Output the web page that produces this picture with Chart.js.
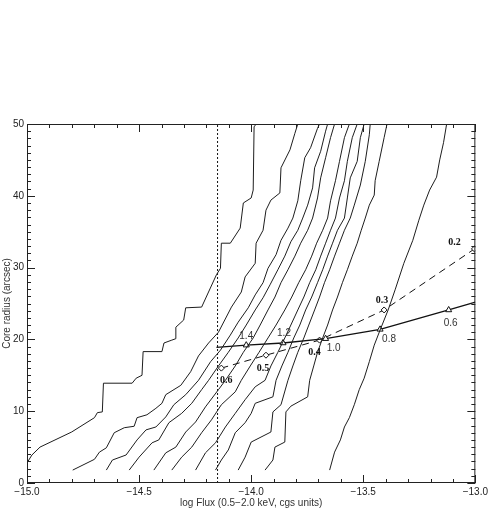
<!DOCTYPE html>
<html>
<head>
<meta charset="utf-8">
<script src="https://cdn.jsdelivr.net/npm/chart.js@4.4.0/dist/chart.umd.min.js"></script>
<style>
html, body { margin: 0; padding: 0; background: #fff; }
#wrap { width: 491px; height: 510px; }
</style>
</head>
<body>
<div id="wrap"><canvas id="myChart" width="491" height="510"></canvas></div>
<script>
// contours, [log flux, core radius]
var contour1 = [[-15.000,2.8],[-14.978,3.9],[-14.942,5.0],[-14.801,7.1],[-14.699,9.1],[-14.686,9.8],[-14.664,9.9],[-14.659,13.9],[-14.531,13.9],[-14.513,14.6],[-14.487,15.0],[-14.482,18.3],[-14.398,18.3],[-14.389,19.5],[-14.354,19.9],[-14.336,20.1],[-14.336,21.7],[-14.301,22.7],[-14.292,24.4],[-14.221,24.5],[-14.155,29.0],[-14.137,29.9],[-14.133,33.4],[-14.093,33.4],[-14.049,35.5],[-14.035,39.0],[-14.000,39.7],[-13.991,40.8],[-13.987,49.6],[-13.978,50.0]];
var contour2 = [[-14.796,1.8],[-14.699,3.3],[-14.677,4.3],[-14.646,4.9],[-14.611,7.0],[-14.566,7.7],[-14.522,7.9],[-14.509,9.1],[-14.465,9.5],[-14.425,10.4],[-14.398,11.1],[-14.381,12.3],[-14.314,13.6],[-14.270,15.5],[-14.235,17.7],[-14.190,19.5],[-14.146,21.0],[-14.088,24.5],[-14.044,26.6],[-14.027,28.7],[-13.982,30.6],[-13.978,33.4],[-13.947,35.2],[-13.934,38.0],[-13.912,39.4],[-13.872,40.4],[-13.867,43.9],[-13.827,46.4],[-13.805,48.7],[-13.792,50.0]];
var contour3 = [[-14.646,1.8],[-14.619,3.2],[-14.558,3.9],[-14.509,6.0],[-14.469,7.4],[-14.425,7.8],[-14.381,9.2],[-14.345,10.9],[-14.292,12.3],[-14.235,14.3],[-14.181,16.9],[-14.137,18.5],[-14.093,20.6],[-14.058,22.4],[-14.013,24.4],[-13.982,26.2],[-13.947,27.9],[-13.925,29.9],[-13.889,31.8],[-13.867,33.8],[-13.836,35.5],[-13.814,36.9],[-13.792,39.3],[-13.779,42.1],[-13.761,45.3],[-13.735,46.7],[-13.704,49.4],[-13.695,50.0]];
var contour4 = [[-14.544,1.8],[-14.500,3.6],[-14.442,5.6],[-14.412,6.0],[-14.367,8.4],[-14.310,9.7],[-14.265,11.1],[-14.221,13.0],[-14.190,14.3],[-14.146,16.3],[-14.102,18.2],[-14.058,20.2],[-14.022,22.0],[-13.982,24.1],[-13.947,25.8],[-13.916,27.6],[-13.881,29.7],[-13.850,31.6],[-13.823,33.6],[-13.792,35.2],[-13.770,36.9],[-13.748,38.7],[-13.726,41.1],[-13.717,43.9],[-13.690,46.2],[-13.668,49.0],[-13.659,50.0]];
var contour5 = [[-14.434,1.8],[-14.381,4.2],[-14.336,5.0],[-14.292,7.1],[-14.248,8.5],[-14.204,10.6],[-14.146,13.0],[-14.115,14.3],[-14.071,16.3],[-14.035,18.2],[-13.991,20.2],[-13.960,22.0],[-13.925,24.1],[-13.894,25.9],[-13.867,27.9],[-13.836,29.7],[-13.805,31.6],[-13.779,33.4],[-13.748,35.2],[-13.726,36.9],[-13.704,39.7],[-13.690,42.5],[-13.668,45.3],[-13.646,48.1],[-13.628,50.0]];
var contour6 = [[-14.354,1.8],[-14.310,3.6],[-14.265,5.0],[-14.221,7.0],[-14.177,8.8],[-14.133,10.9],[-14.071,12.7],[-14.044,14.3],[-14.004,16.3],[-13.965,18.2],[-13.925,20.2],[-13.889,22.0],[-13.850,24.1],[-13.819,25.9],[-13.788,27.9],[-13.757,29.7],[-13.730,31.6],[-13.708,33.4],[-13.681,35.2],[-13.659,36.9],[-13.646,39.3],[-13.624,42.1],[-13.606,44.8],[-13.584,48.1],[-13.562,50.0]];
var contour7 = [[-14.248,1.8],[-14.204,4.2],[-14.159,5.6],[-14.115,7.8],[-14.071,9.7],[-14.027,11.6],[-13.982,13.4],[-13.938,14.3],[-13.912,16.3],[-13.881,18.2],[-13.850,20.2],[-13.823,22.0],[-13.792,24.1],[-13.765,25.9],[-13.739,27.9],[-13.712,29.7],[-13.690,31.6],[-13.668,33.4],[-13.646,35.2],[-13.624,36.9],[-13.606,39.7],[-13.584,42.1],[-13.571,44.8],[-13.549,48.1],[-13.527,50.0]];
var contour8 = [[-14.159,1.8],[-14.133,3.2],[-14.102,4.6],[-14.071,7.0],[-14.027,8.4],[-14.000,9.7],[-13.982,11.1],[-13.903,12.0],[-13.889,14.3],[-13.863,16.3],[-13.836,18.2],[-13.810,20.2],[-13.783,22.0],[-13.757,24.1],[-13.730,25.9],[-13.704,27.9],[-13.681,29.7],[-13.659,31.6],[-13.637,33.4],[-13.615,35.2],[-13.584,36.9],[-13.571,39.7],[-13.558,42.5],[-13.527,44.8],[-13.513,48.1],[-13.496,50.0]];
var contour9 = [[-14.058,1.8],[-14.027,3.6],[-14.000,5.7],[-13.912,7.1],[-13.903,9.9],[-13.867,10.9],[-13.836,14.3],[-13.814,16.3],[-13.792,18.2],[-13.765,20.2],[-13.743,22.0],[-13.717,24.1],[-13.695,25.9],[-13.673,27.9],[-13.650,29.7],[-13.628,31.6],[-13.606,33.4],[-13.584,35.2],[-13.558,36.9],[-13.540,38.7],[-13.513,41.5],[-13.491,44.8],[-13.473,48.5],[-13.469,50.0]];
var contour10 = [[-13.938,1.8],[-13.903,3.2],[-13.894,5.0],[-13.850,5.7],[-13.845,9.9],[-13.823,10.7],[-13.748,12.0],[-13.739,14.3],[-13.721,16.3],[-13.704,18.2],[-13.681,20.2],[-13.659,22.0],[-13.637,24.1],[-13.615,25.9],[-13.593,27.9],[-13.571,29.7],[-13.549,31.6],[-13.527,33.4],[-13.509,35.2],[-13.491,36.9],[-13.473,38.7],[-13.451,40.1],[-13.447,42.1],[-13.429,44.8],[-13.407,48.1],[-13.394,50.0]];
var contour11 = [[-13.650,1.8],[-13.628,4.3],[-13.602,6.0],[-13.584,7.8],[-13.562,9.1],[-13.540,10.9],[-13.518,13.0],[-13.496,14.6],[-13.473,16.9],[-13.451,19.2],[-13.425,21.3],[-13.389,24.1],[-13.358,26.9],[-13.319,30.6],[-13.279,33.8],[-13.252,36.6],[-13.230,38.7],[-13.204,40.8],[-13.173,42.6],[-13.159,45.0],[-13.142,47.4],[-13.128,50.0]];

// flux limit
var limitFlux = -14.15;

// solid track with triangles
var triFlux   = [-14.155, -14.022, -13.858, -13.668, -13.425, -13.119, -13.0];
var triRadius = [18.9, 19.2, 19.5, 20.1, 21.4, 24.1, 25.2];
var triLabels = ['', '1.4', '1.2', '1.0', '0.8', '0.6', ''];

// dashed track with diamonds
var dmdFlux   = [-14.133, -13.934, -13.695, -13.407, -13.004];
var dmdRadius = [16.0, 17.8, 19.9, 24.1, 32.6];
var dmdLabels = ['0.6', '0.5', '0.4', '0.3', '0.2'];

var xTickValues = [-15.0, -14.5, -14.0, -13.5, -13.0];
var yTickValues = [0, 10, 20, 30, 40, 50];

// label offsets in pixels (style only)
var triOffsets = [null, [0, -9], [1, -10], [8, 10], [9, 10], [2, 13], null];
var dmdOffsets = [[5, 12], [-3, 13], [-5, 12], [-2, -10], [-20, -7]];

var contours = [contour1, contour2, contour3, contour4, contour5, contour6,
                contour7, contour8, contour9, contour10, contour11];

function toPoints(arr) {
    return arr.map(function (p) { return {x: p[0], y: p[1]}; });
}
function zipPoints(xs, ys) {
    return xs.map(function (v, i) { return {x: v, y: ys[i]}; });
}

var datasets = contours.map(function (c) {
    return {
        data: toPoints(c),
        showLine: true,
        borderColor: '#1e1e1e',
        borderWidth: 1,
        pointRadius: 0,
        tension: 0
    };
});

datasets.push({
    data: [{x: limitFlux, y: 0}, {x: limitFlux, y: 50}],
    showLine: true,
    borderColor: '#111',
    borderWidth: 1,
    borderDash: [2, 2],
    pointRadius: 0
});

datasets.push({
    data: zipPoints(triFlux, triRadius),
    showLine: true,
    borderColor: '#111',
    borderWidth: 1.3,
    pointStyle: 'triangle',
    pointRadius: triLabels.map(function (l) { return l ? 3.5 : 0; }),
    pointBackgroundColor: '#fff',
    pointBorderColor: '#111',
    pointBorderWidth: 1,
    labels: triLabels,
    offsets: triOffsets,
    labelFont: '10px "Liberation Sans", Arial, sans-serif',
    labelColor: '#333'
});

datasets.push({
    data: zipPoints(dmdFlux, dmdRadius),
    showLine: true,
    borderColor: '#111',
    borderWidth: 1,
    borderDash: [7, 5],
    pointStyle: 'rectRot',
    pointRadius: 3,
    pointBackgroundColor: '#fff',
    pointBorderColor: '#111',
    pointBorderWidth: 1,
    labels: dmdLabels,
    offsets: dmdOffsets,
    labelFont: 'bold 10px "Liberation Serif", "Times New Roman", serif',
    labelColor: '#111'
});

// box with inward ticks on all four sides
var frameTicks = {
    id: 'frameTicks',
    afterDatasetsDraw: function (chart) {
        var ctx = chart.ctx, a = chart.chartArea;
        var xs = chart.scales.x, ys = chart.scales.y;
        ctx.save();
        ctx.strokeStyle = '#222';
        ctx.lineWidth = 1;
        ctx.strokeRect(a.left + 0.5, a.top + 0.5, a.right - a.left - 1, a.bottom - a.top - 1);
        ctx.beginPath();
        for (var i = 0; i <= 20; i++) {
            var px = Math.round(xs.getPixelForValue(-15 + i * 0.1)) + 0.5;
            var len = (i % 5 === 0) ? 8 : 4;
            ctx.moveTo(px, a.bottom); ctx.lineTo(px, a.bottom - len);
            ctx.moveTo(px, a.top); ctx.lineTo(px, a.top + len);
        }
        for (var j = 0; j <= 50; j++) {
            var py = Math.round(ys.getPixelForValue(j)) + 0.5;
            var l2 = (j % 10 === 0) ? 8 : 4;
            ctx.moveTo(a.left, py); ctx.lineTo(a.left + l2, py);
            ctx.moveTo(a.right, py); ctx.lineTo(a.right - l2, py);
        }
        ctx.stroke();
        ctx.restore();
    }
};

var pointLabels = {
    id: 'pointLabels',
    afterDatasetsDraw: function (chart) {
        var ctx = chart.ctx;
        chart.data.datasets.forEach(function (ds, di) {
            if (!ds.labels) return;
            var meta = chart.getDatasetMeta(di);
            ctx.save();
            ctx.font = ds.labelFont;
            ctx.fillStyle = ds.labelColor;
            ctx.textAlign = 'center';
            ctx.textBaseline = 'middle';
            ds.labels.forEach(function (lab, i) {
                if (!lab) return;
                var el = meta.data[i];
                var off = ds.offsets[i];
                ctx.fillText(lab, el.x + off[0], el.y + off[1]);
            });
            ctx.restore();
        });
    }
};

var ctx = document.getElementById('myChart');

var myChart = new Chart(ctx, {
    type: 'scatter',
    data: { datasets: datasets },
    options: {
        responsive: false,
        animation: false,
        events: [],
        layout: { padding: { top: 124, right: 12, left: 0, bottom: 0 } },
        plugins: { legend: { display: false }, tooltip: { enabled: false } },
        scales: {
            x: {
                type: 'linear',
                min: -15, max: -13,
                grid: { display: false, drawTicks: false },
                border: { display: false },
                afterBuildTicks: function (s) { s.ticks = xTickValues.map(function (v) { return {value: v}; }); },
                afterFit: function (s) { s.height = 27; },
                ticks: {
                    autoSkip: false, maxRotation: 0, padding: 3,
                    color: '#222',
                    font: { family: '"Liberation Sans", Arial, sans-serif', size: 10 },
                    callback: function (v) { return (v < 0 ? '\u2212' : '') + Math.abs(v).toFixed(1); }
                },
                title: {
                    display: true,
                    text: 'log Flux (0.5\u22122.0 keV, cgs units)',
                    color: '#333',
                    font: { family: '"Liberation Sans", Arial, sans-serif', size: 10 },
                    padding: { top: 0, bottom: 1 }
                }
            },
            y: {
                type: 'linear',
                min: 0, max: 50,
                grid: { display: false, drawTicks: false },
                border: { display: false },
                afterBuildTicks: function (s) { s.ticks = yTickValues.map(function (v) { return {value: v}; }); },
                afterFit: function (s) { s.width = 27; },
                ticks: {
                    autoSkip: false, padding: 3,
                    color: '#222',
                    font: { family: '"Liberation Sans", Arial, sans-serif', size: 10 },
                    callback: function (v) { return String(v); }
                },
                title: {
                    display: true,
                    text: 'Core radius (arcsec)',
                    color: '#333',
                    font: { family: '"Liberation Sans", Arial, sans-serif', size: 10 },
                    padding: { top: 1, bottom: 0 }
                }
            }
        }
    },
    plugins: [frameTicks, pointLabels]
});
</script>
</body>
</html>
